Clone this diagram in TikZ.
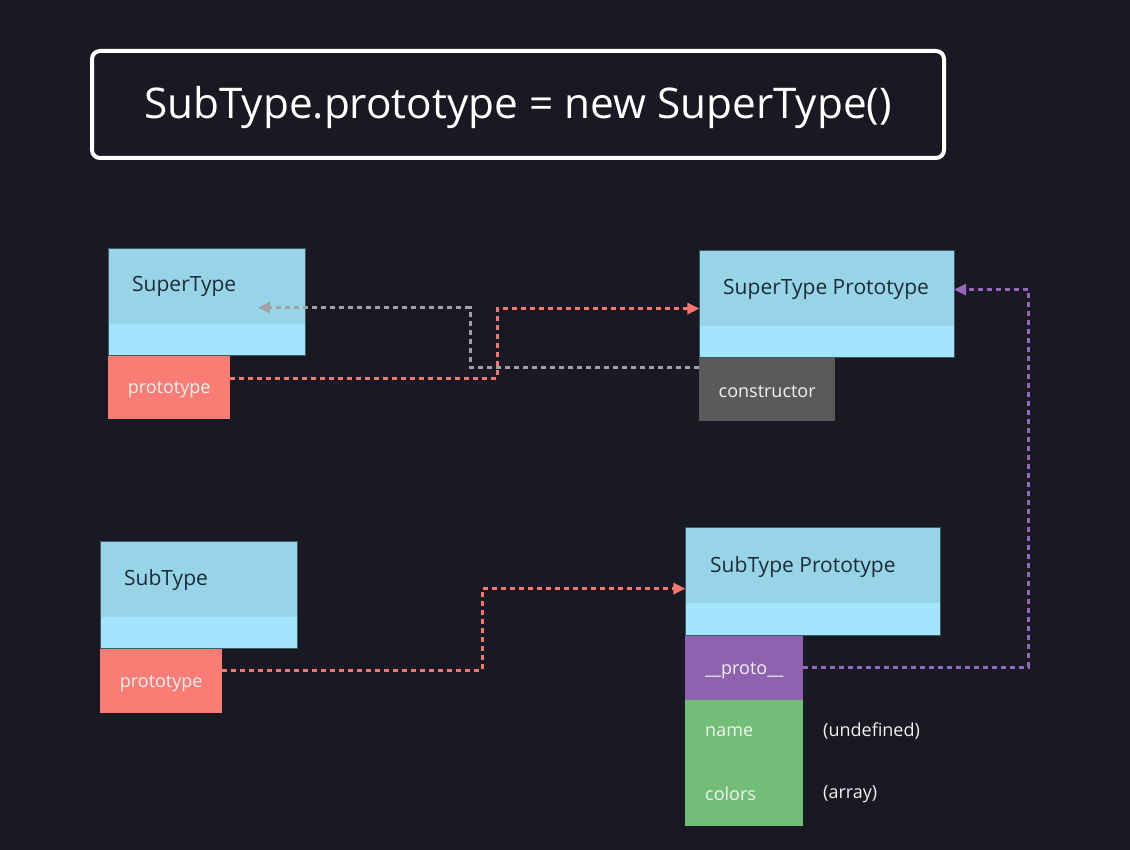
\documentclass[tikz,border=0pt]{standalone}
\usepackage{fontspec}
\setmainfont{Open Sans}
\usetikzlibrary{arrows.meta}
\definecolor{bg}{HTML}{181923}
\definecolor{hdrc}{HTML}{98D4E7}
\definecolor{stripc}{HTML}{A3E5FC}
\definecolor{edgec}{HTML}{3E5866}
\definecolor{salmon}{HTML}{FA7C74}
\definecolor{darkgray}{HTML}{5A5A5A}
\definecolor{purp}{HTML}{8E62AE}
\definecolor{grn}{HTML}{72BD78}
\definecolor{hdrtext}{HTML}{1E2B38}
\definecolor{celltext}{HTML}{F2F2F2}
\definecolor{redl}{HTML}{F8776D}
\definecolor{grayl}{HTML}{A0A1A6}
\definecolor{purpl}{HTML}{9866BC}
\newcommand\lowtxt[1]{\raisebox{-2.5pt}[\height][\depth]{#1}}
\tikzset{
  box/.style={fill=stripc, draw=edgec, line width=0.8pt, anchor=north west, inner sep=0pt, minimum width=#1},
  hdr/.style={fill=hdrc, anchor=north west, inner sep=0pt, minimum width=#1},
  cell/.style={fill=#1, anchor=north west, inner sep=0pt, text=celltext, font=\fontsize{18}{21}\selectfont},
  hdrlabel/.style={anchor=west, inner sep=0pt, text=hdrtext, font=\fontsize{21}{25}\selectfont},
  vallabel/.style={anchor=west, inner sep=0pt, text=celltext, font=\fontsize{18}{21}\selectfont},
  link/.style={draw=#1, line width=3pt, dash pattern=on 5pt off 4pt, -{Triangle[length=12pt,width=11pt,fill=#1]}},
}
\begin{document}
\begin{tikzpicture}[x=1pt,y=-1pt]
\fill[bg] (0,0) rectangle (1130,850);
\useasboundingbox (0,0) rectangle (1130,850);

% title
\node[draw=white, line width=4pt, rounded corners=8pt, minimum width=852pt, minimum height=107pt, inner sep=0pt, text=white, font=\fontsize{42.3}{50}\selectfont] (title) at (518,104.5) {\raisebox{-3pt}[\height][\depth]{SubType.prototype = new SuperType()}};

% SuperType
\node[box=197pt, minimum height=107pt] (st) at (108,248) {};
\node[hdr=196.2pt, minimum height=75pt] (sth) at ([shift={(0.4,0.4)}]st.north west) {};
\node[hdrlabel] (stl) at (132,286.5) {SuperType};
\node[cell=salmon, minimum width=122pt, minimum height=63pt] (stp) at (st.south west) {\lowtxt{prototype}};

% SuperType Prototype
\node[box=255pt, minimum height=107pt] (sp) at (699,250) {};
\node[hdr=254.2pt, minimum height=75pt] (sph) at ([shift={(0.4,0.4)}]sp.north west) {};
\node[hdrlabel] (spl) at (723,289.5) {SuperType Prototype};
\node[cell=darkgray, minimum width=136pt, minimum height=63pt] (spc) at (sp.south west) {\lowtxt{constructor}};

% SubType
\node[box=197pt, minimum height=107pt] (sb) at (100,541) {};
\node[hdr=196.2pt, minimum height=75pt] (sbh) at ([shift={(0.4,0.4)}]sb.north west) {};
\node[hdrlabel] (sbl) at (124,580.5) {SubType};
\node[cell=salmon, minimum width=122pt, minimum height=64pt] (sbp) at (sb.south west) {\lowtxt{prototype}};

% SubType Prototype
\node[box=255pt, minimum height=108pt] (bp) at (685,527) {};
\node[hdr=254.2pt, minimum height=75pt] (bph) at ([shift={(0.4,0.4)}]bp.north west) {};
\node[hdrlabel] (bpl) at (710,567.5) {SubType Prototype};
\node[cell=purp, minimum width=118pt, minimum height=64pt] (bpp) at (bp.south west) {\lowtxt{\_\_proto\_\_}};
\node[cell=grn, minimum width=118pt, minimum height=126pt] (bpg) at (bpp.south west) {};
\node[vallabel] (nm) at (705,731.5) {name};
\node[vallabel] (cl) at (705,794) {colors};
\node[vallabel] (nmv) at (823,731.5) {(undefined)};
\node[vallabel] (clv) at (823,794) {(array)};

% connectors
\draw[link=grayl] ([yshift=22.5pt]spc.west) -- ++(-229,0) |- ([xshift=-47pt,yshift=-21.5pt]sth.east);
\draw[link=redl] ([yshift=9.5pt]stp.east) -- ++(267,0) |- ([yshift=-20.5pt]sph.west);
\draw[link=redl] ([yshift=11pt]sbp.east) -- ++(260,0) |- ([yshift=-23.5pt]bph.west);
\draw[link=purpl] ([yshift=1pt]bpp.east) -- ++(225,0) |- ([yshift=-1.5pt]sph.east);
\end{tikzpicture}
\end{document}
